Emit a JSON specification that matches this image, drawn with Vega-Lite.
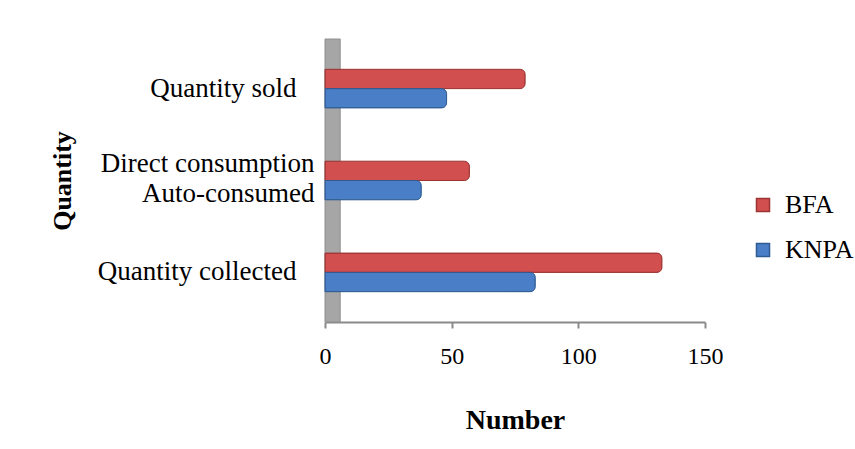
{
  "$schema": "https://vega.github.io/schema/vega-lite/v6.json",
  "width": 380,
  "height": 283,
  "autosize": {"type": "none"},
  "padding": {"left": 325, "top": 39, "right": 150, "bottom": 127},
  "background": "white",
  "config": {"view": {"stroke": null}, "font": "Liberation Serif"},
  "data": {
    "values": [
      {"item": "Quantity sold", "site": "BFA", "count": 79},
      {"item": "Quantity sold", "site": "KNPA", "count": 48},
      {"item": "Direct consumption\nAuto-consumed", "site": "BFA", "count": 57},
      {"item": "Direct consumption\nAuto-consumed", "site": "KNPA", "count": 38},
      {"item": "Quantity collected", "site": "BFA", "count": 133},
      {"item": "Quantity collected", "site": "KNPA", "count": 83}
    ]
  },
  "layer": [
    {
      "data": {"values": [{"wall_from": 0, "wall_to": 6}]},
      "mark": {"type": "rect", "color": "#a6a6a6", "stroke": "#8e8e8e", "strokeWidth": 1},
      "encoding": {
        "x": {"field": "wall_from", "type": "quantitative", "scale": {"domain": [0, 150], "nice": false}},
        "x2": {"field": "wall_to"}
      }
    },
    {
      "mark": {"type": "bar", "cornerRadiusEnd": 5, "strokeWidth": 1},
      "encoding": {
        "y": {
          "field": "item",
          "type": "nominal",
          "sort": ["Quantity sold", "Direct consumption\nAuto-consumed", "Quantity collected"],
          "scale": {"paddingInner": 0.58, "paddingOuter": 0.33},
          "title": "Quantity",
          "axis": {
            "domain": false,
            "ticks": false,
            "labelExpr": "split(datum.value, '\\n')",
            "labelFontSize": 27,
            "labelLineHeight": 30,
            "labelColor": "#000000",
            "labelPadding": {"condition": {"test": "indexof(datum.value, '\\n') >= 0", "value": 11}, "value": 29},
            "labelOffset": {"condition": {"test": "indexof(datum.value, '\\n') >= 0", "value": -17}, "value": 0},
            "labelLimit": 320,
            "titleFontSize": 26,
            "titleFontWeight": "bold",
            "titleColor": "#000000",
            "titlePadding": 50
          }
        },
        "yOffset": {"field": "site", "sort": ["BFA", "KNPA"]},
        "x": {
          "field": "count",
          "type": "quantitative",
          "scale": {"domain": [0, 150], "nice": false},
          "title": "Number",
          "axis": {
            "values": [0, 50, 100, 150],
            "grid": false,
            "labelFlush": false,
            "domainColor": "#8a8a8a",
            "domainWidth": 2,
            "tickColor": "#8a8a8a",
            "tickWidth": 2,
            "tickSize": 6,
            "labelFontSize": 24,
            "labelColor": "#000000",
            "labelPadding": 16,
            "titleFontSize": 28,
            "titleFontWeight": "bold",
            "titleColor": "#000000",
            "titlePadding": 38
          }
        },
        "color": {
          "field": "site",
          "type": "nominal",
          "scale": {"domain": ["BFA", "KNPA"], "range": ["#d24f4f", "#4a7fc8"]},
          "legend": {
            "orient": "none",
            "legendX": 425,
            "legendY": 153,
            "title": null,
            "symbolType": "square",
            "symbolSize": 170,
            "labelFontSize": 26,
            "labelColor": "#000000",
            "labelOffset": 9,
            "rowPadding": 19
          }
        },
        "stroke": {
          "field": "site",
          "type": "nominal",
          "scale": {"domain": ["BFA", "KNPA"], "range": ["#9b3432", "#2f5b92"]},
          "legend": null
        }
      }
    }
  ]
}
